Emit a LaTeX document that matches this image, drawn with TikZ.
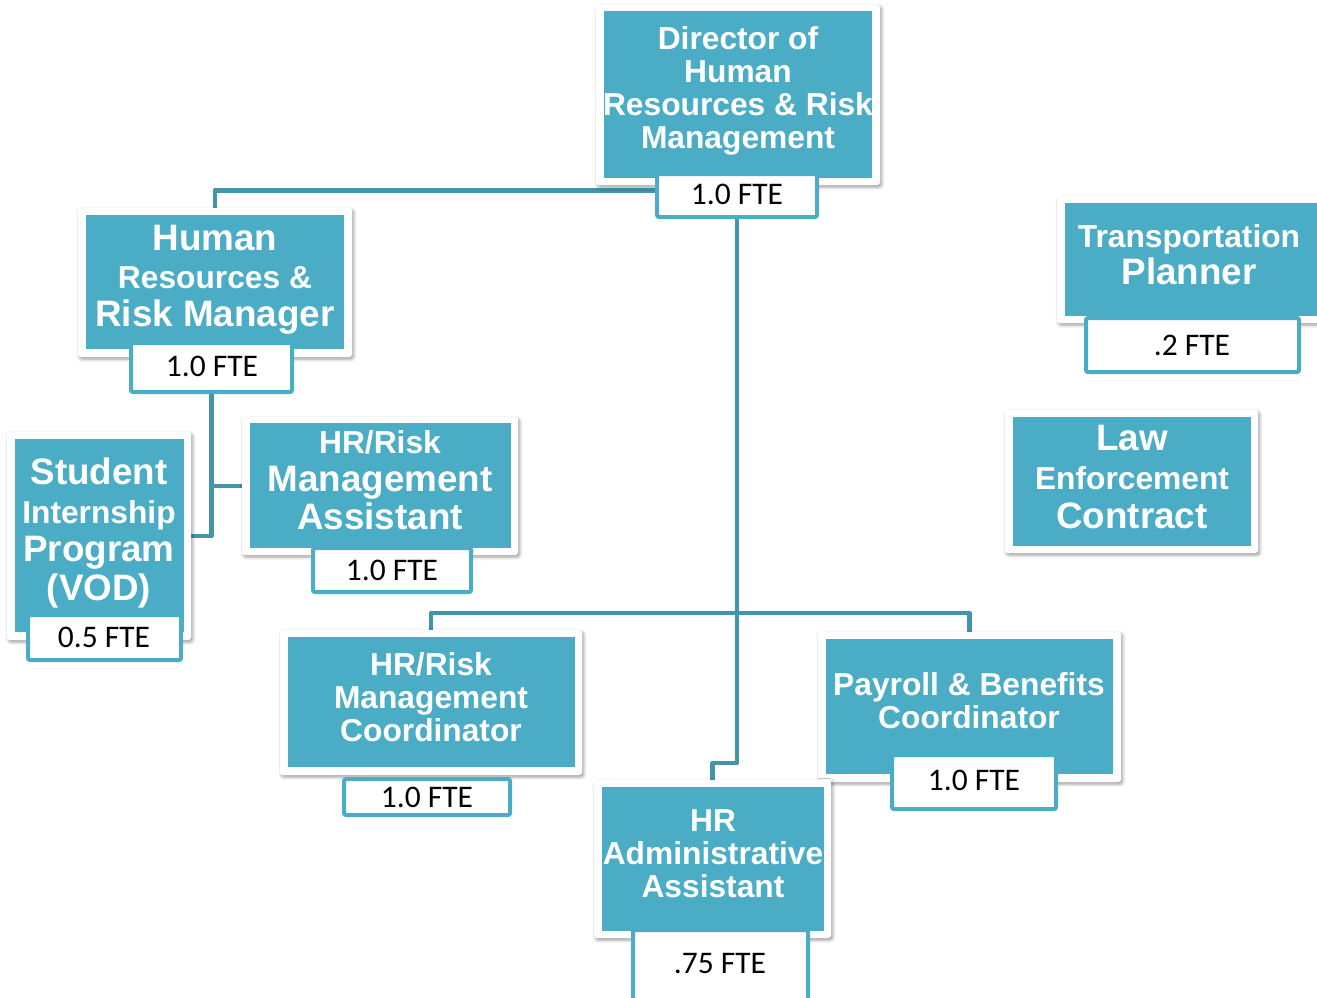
\documentclass[tikz,border=0pt]{standalone}
\usepackage{fontspec}
\setmainfont{Liberation Sans}
\newfontfamily\ftefont{Carlito}
\usetikzlibrary{fit,shadows.blur,backgrounds}
\definecolor{teal1}{HTML}{4BACC6}
\definecolor{linec}{HTML}{4494AD}
\newcommand\bgl{\fontsize{27.6}{28.5}\selectfont}
\tikzset{
  card/.style={fill=white, draw=none, rounded corners=2pt, inner sep=0pt,
    blur shadow={shadow xshift=1.2pt, shadow yshift=-1.5pt, shadow blur radius=2.5pt, shadow opacity=40}},
  innerbox/.style={fill=teal1, draw=none, inner sep=0pt},
  ttl/.style={text=white, align=center, inner sep=0pt},
  s33/.style={font=\bfseries\fontsize{23.8}{24.75}\selectfont},
  s38/.style={font=\bfseries\fontsize{23.8}{28.5}\selectfont},
  s39/.style={font=\bfseries\fontsize{23.8}{29}\selectfont},
  s37/.style={font=\bfseries\fontsize{23.8}{27.75}\selectfont},
  fte/.style={fill=white, draw=teal1, line width=3pt, rounded corners=1.5pt, inner sep=0pt},
  ftetxt/.style={font=\ftefont\fontsize{23.6}{26}\selectfont, text=black, inner sep=0pt},
  conn/.style={draw=linec, line width=3.6pt, line join=round}
}
\begin{document}
\begin{tikzpicture}[x=0.75pt,y=-0.75pt]
\useasboundingbox (0,0) rectangle (1317,997);

% Director
\node[card, fit={(596,5) (880,185)}] (dirC) {};
\node[innerbox, fit={(604,11) (872,178)}] (dirI) {};
\node[ttl, s33] (dirT) at (738,91) {Director of\\Human\\Resources \& Risk\\Management};
\node[fte, fit={(657,174) (817,217)}] (dirF) {};
\node[ftetxt] (dirFT) at (737,194) {1.0 FTE};

% HR & Risk Manager
\node[card, fit={(78,208) (352,357)}] (hrC) {};
\node[innerbox, fit={(86,215) (344,349)}] (hrI) {};
\node[ttl, s38] (hrT) at (215,280) {{\bgl Human}\\Resources \&\\{\bgl Risk Manager}};
\node[fte, fit={(131,343) (292,392)}] (hrF) {};
\node[ftetxt] (hrFT) at (212,366) {1.0 FTE};

% Student Internship
\node[card, fit={(7,432) (191,640)}] (stuC) {};
\node[innerbox, fit={(15,439) (184,632)}] (stuI) {};
\node[ttl, s39] (stuT) at (99,533) {{\bgl Student}\\Internship\\{\bgl Program}\\{\bgl (VOD)}};
\node[fte, fit={(28,615) (181,660)}] (stuF) {};
\node[ftetxt] (stuFT) at (104,637) {0.5 FTE};

% HR/Risk Management Assistant
\node[card, fit={(242,417) (518,555)}] (asC) {};
\node[innerbox, fit={(250,423) (511,548)}] (asI) {};
\node[ttl, s38] (asT) at (380,480) {HR/Risk\\{\bgl Management}\\{\bgl Assistant}};
\node[fte, fit={(313,548) (471,592)}] (asF) {};
\node[ftetxt] (asFT) at (392,570) {1.0 FTE};

% HR/Risk Management Coordinator
\node[card, fit={(280,630) (582,775)}] (cooC) {};
\node[innerbox, fit={(288,637) (575,767)}] (cooI) {};
\node[ttl, s33] (cooT) at (431,697) {HR/Risk\\Management\\Coordinator};
\node[fte, fit={(344,779) (510,815)}] (cooF) {};
\node[ftetxt] (cooFT) at (427,797) {1.0 FTE};

% Payroll & Benefits Coordinator
\node[card, fit={(818,632) (1121,782)}] (payC) {};
\node[innerbox, fit={(826,639) (1113,774)}] (payI) {};
\node[ttl, s33] (payT) at (969,701) {Payroll \& Benefits\\Coordinator};
\node[fte, fit={(892,755) (1056,809)}] (payF) {};
\node[ftetxt] (payFT) at (974,780) {1.0 FTE};

% HR Administrative Assistant
\node[card, fit={(594,780) (831,938)}] (admC) {};
\node[innerbox, fit={(602,787) (824,931)}] (admI) {};
\node[ttl, s33] (admT) at (713,854) {HR\\Administrative\\Assistant};
\node[fte, fit={(633,930) (808,1002)}] (admF) {};
\node[ftetxt] (admFT) at (720,964) {.75 FTE};

% Transportation Planner
\node[card, fit={(1057,196) (1330,323)}] (trC) {};
\node[innerbox, fit={(1065,203) (1322,316)}] (trI) {};
\node[ttl, s37] (trT) at (1189,255) {Transportation\\{\bgl Planner}};
\node[fte, fit={(1086,318) (1299,372)}] (trF) {};
\node[ftetxt] (trFT) at (1192,345) {.2 FTE};

% Law Enforcement Contract
\node[card, fit={(1005,410) (1258,553)}] (lawC) {};
\node[innerbox, fit={(1013,417) (1251,546)}] (lawI) {};
\node[ttl, s39] (lawT) at (1132,477) {{\bgl Law}\\Enforcement\\{\bgl Contract}};

\coordinate (bus) at (737,613);
\coordinate (bend) at (737,763);

\begin{pgfonlayer}{background}
\draw[conn] ([yshift=4pt]dirF.west) -| (hrC.north);
\draw[conn] (dirF.south) -- (bend) -| (admC.north);
\draw[conn] (cooC.north) |- (bus) -| (payC.north);
\draw[conn] (hrF.south) |- (stuC.east);
\draw[conn] (asC.west) -- (asC.west -| hrF.south);
\end{pgfonlayer}
\end{tikzpicture}
\end{document}
